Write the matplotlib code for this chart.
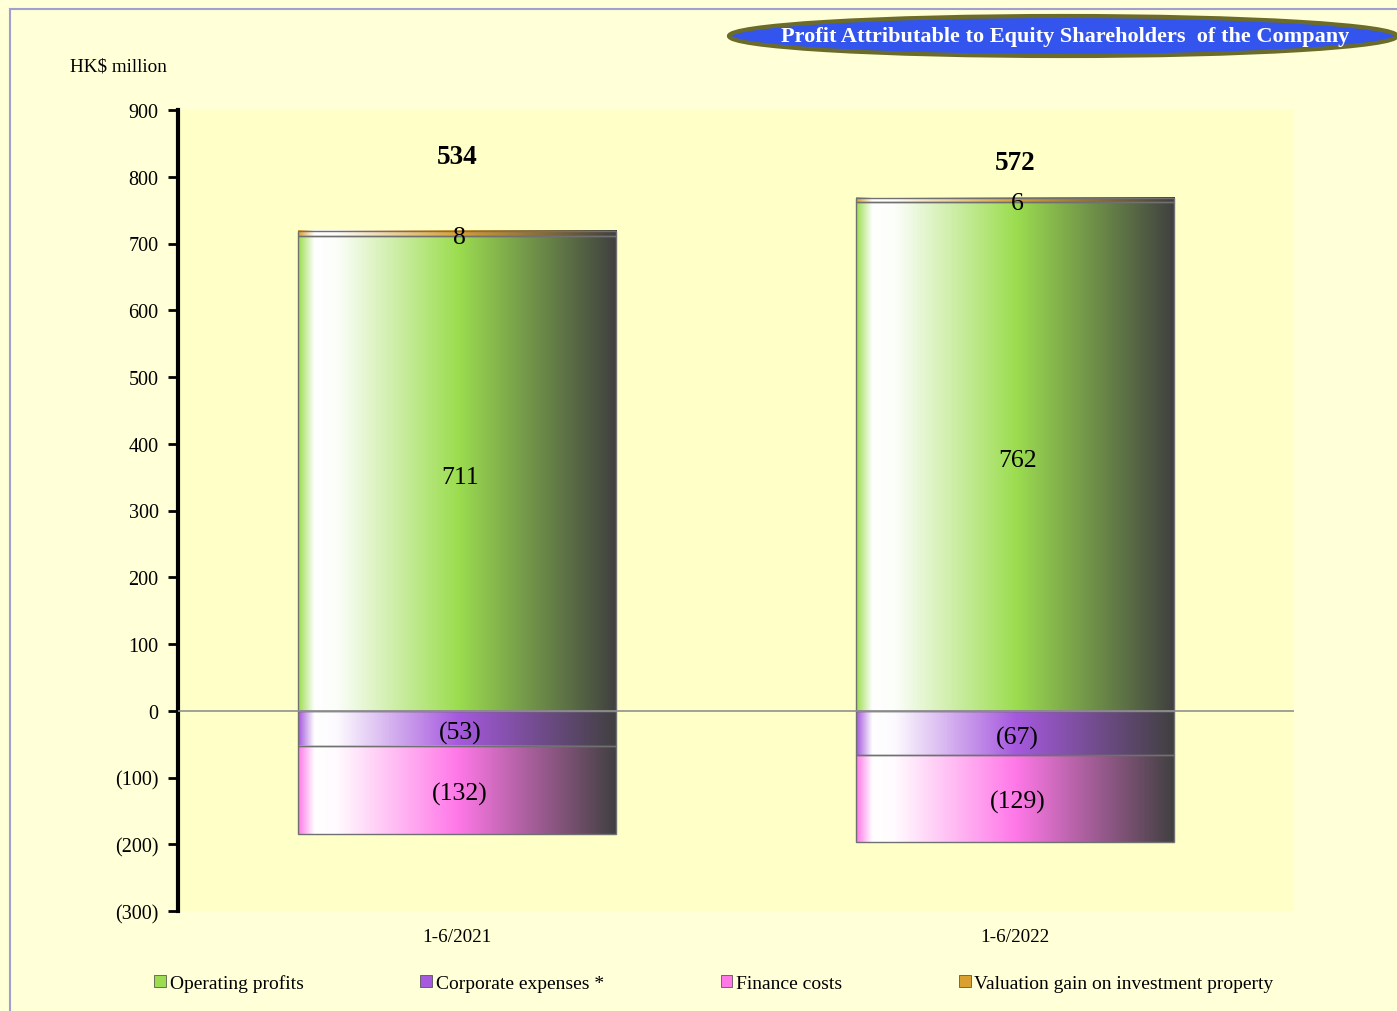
import numpy as np
import matplotlib.pyplot as plt
from matplotlib.colors import to_rgb
from matplotlib.patches import Rectangle, Ellipse, Patch

plt.rcParams['font.family'] = ['Liberation Serif', 'DejaVu Serif']

# data
periods = ['1-6/2021', '1-6/2022']
operating = [711, 762]
valuation = [8, 6]
corporate = [-53, -67]
finance = [-132, -129]
totals = [534, 572]

series_names = ['Operating profits', 'Corporate expenses *', 'Finance costs',
                'Valuation gain on investment property']
colors = {'op': '#9CDD50', 'corp': '#A659DE', 'fin': '#FF78E8', 'val': '#D9A030'}


def gradient(base, n=256):
    base = np.array(to_rgb(base))
    white = np.ones(3)
    dark = np.array(to_rgb('#404040'))
    stops = [0.0, 0.05, 0.12, 0.5, 1.0]
    cols = [base, white, white * 0.97 + base * 0.03, base, dark]
    t = np.linspace(0, 1, n)
    out = np.zeros((1, n, 3))
    for c in range(3):
        out[0, :, c] = np.interp(t, stops, [col[c] for col in cols])
    return out


fig = plt.figure(figsize=(13.97, 10.12), dpi=100)
fig.patch.set_facecolor('#FFFFD8')
ax = fig.add_axes([178 / 1397, 1 - 912 / 1012, (1294 - 178) / 1397, (912 - 111) / 1012])
ax.set_facecolor('#FFFFC8')

# frame lines of the slide
fig.add_artist(plt.Line2D([10 / 1397, 1], [1 - 10 / 1012] * 2, transform=fig.transFigure,
                          color='#A0A0D0', lw=1.5))
fig.add_artist(plt.Line2D([10 / 1397] * 2, [0, 1 - 10 / 1012], transform=fig.transFigure,
                          color='#A0A0D0', lw=1.5))

width = 0.57
x = np.arange(len(periods))


def seg(xc, y0, y1, color):
    lo, hi = min(y0, y1), max(y0, y1)
    ax.imshow(gradient(color), extent=(xc - width / 2, xc + width / 2, lo, hi),
              aspect='auto', interpolation='bilinear', zorder=2)
    ax.add_patch(Rectangle((xc - width / 2, lo), width, hi - lo, fill=False,
                           edgecolor='#707070', lw=1, zorder=3))


for i, xc in enumerate(x):
    seg(xc, 0, operating[i], colors['op'])
    seg(xc, operating[i], operating[i] + valuation[i], colors['val'])
    seg(xc, 0, corporate[i], colors['corp'])
    seg(xc, corporate[i], corporate[i] + finance[i], colors['fin'])

    ax.text(xc + 0.005, operating[i] / 2 - 5, f'{operating[i]}', ha='center', va='center',
            fontsize=18.5, zorder=5)
    ax.text(xc + 0.005, operating[i] + valuation[i] / 2 - 5, f'{valuation[i]}', ha='center',
            va='center', fontsize=18.5, zorder=5)
    ax.text(xc + 0.005, corporate[i] / 2 - 6, f'({-corporate[i]})', ha='center', va='center',
            fontsize=18.5, zorder=5)
    ax.text(xc + 0.005, corporate[i] + finance[i] / 2 - 5, f'({-finance[i]})', ha='center',
            va='center', fontsize=18.5, zorder=5)

ax.text(x[0], 830, f'{totals[0]}', ha='center', va='center', fontsize=19.5, fontweight='bold')
ax.text(x[1], 822, f'{totals[1]}', ha='center', va='center', fontsize=19.5, fontweight='bold')

ax.axhline(0, color='#909090', lw=1.2, zorder=4)

ax.set_xlim(-0.5, 1.5)
ax.set_ylim(-300, 900)
yt = np.arange(-300, 901, 100)
ax.set_yticks(yt)
ax.set_yticklabels([f'({-v})' if v < 0 else f'{v}' for v in yt], fontsize=14.5)
ax.set_xticks(x)
ax.set_xticklabels(periods, fontsize=13.8)
ax.tick_params(axis='x', length=0, pad=12)
ax.tick_params(axis='y', length=7, width=2, pad=7)
for s in ['top', 'right', 'bottom']:
    ax.spines[s].set_visible(False)
ax.spines['left'].set_linewidth(3)

fig.text(70 / 1397, 1 - 67 / 1012, 'HK$ million', fontsize=13.8, va='center', ha='left')

# title banner
ell = Ellipse((1063 / 1397, 1 - 37 / 1012), 668 / 1397, 40 / 1012, transform=fig.transFigure,
              facecolor='#3355EE', edgecolor='#6B6B2A', lw=3)
fig.add_artist(ell)
fig.text(1065 / 1397, 1 - 37 / 1012, 'Profit Attributable to Equity Shareholders  of the Company',
         color='white', fontsize=16, fontweight='bold', ha='center', va='center')

handles = [Patch(facecolor=colors['op'], edgecolor='#404040', lw=0.5),
           Patch(facecolor=colors['corp'], edgecolor='#404040', lw=0.5),
           Patch(facecolor=colors['fin'], edgecolor='#404040', lw=0.5),
           Patch(facecolor=colors['val'], edgecolor='#404040', lw=0.5)]
fig.legend(handles, series_names, loc='center', bbox_to_anchor=(0.511, 1 - 984 / 1012), ncol=4,
           frameon=False, fontsize=14, handlelength=0.6, handleheight=0.6, handletextpad=0.2,
           columnspacing=6.0)

fig.savefig('out.png', dpi=100, facecolor=fig.get_facecolor())
